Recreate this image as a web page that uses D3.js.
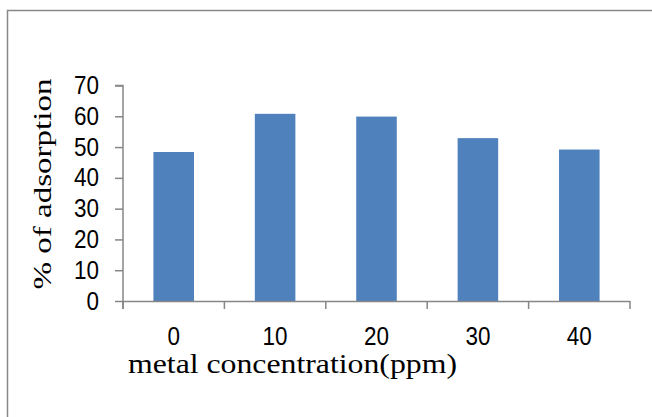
<!DOCTYPE html>
<html>
<head>
<meta charset="utf-8">
<script src="https://cdn.jsdelivr.net/npm/d3@7"></script>
<style>
  body { margin: 0; background: #fff; }
  svg { display: block; }
</style>
</head>
<body>
<div id="plot"></div>
<script>
// data
var categories = ["0", "10", "20", "30", "40"];
var adsorption = [48.4, 60.8, 59.9, 52.9, 49.2];
var yTicks = [0, 10, 20, 30, 40, 50, 60, 70];

var w = 652;
var h = 417;
var plotLeft = 123, plotRight = 630, plotTop = 85.5, plotBottom = 301;
var digitW = 12.5;  // tick digits are a bit condensed

var svg = d3.select("#plot")
  .append("svg")
  .attr("width", w)
  .attr("height", h);

// outer frame (runs off the picture right and bottom)
svg.append("rect")
  .attr("x", 7.5)
  .attr("y", 10.5)
  .attr("width", 800)
  .attr("height", 600)
  .attr("fill", "none")
  .attr("stroke", "#888")
  .attr("stroke-width", 1.5);

var xScale = d3.scaleBand()
  .domain(categories)
  .range([plotLeft, plotRight])
  .paddingInner(0.6)
  .paddingOuter(0.3);

var yScale = d3.scaleLinear()
  .domain([0, 70])
  .range([plotBottom, plotTop]);

// bars
svg.selectAll("rect.bar")
  .data(adsorption)
  .enter()
  .append("rect")
  .attr("class", "bar")
  .attr("x", function(d, i) { return xScale(categories[i]); })
  .attr("y", function(d) { return yScale(d); })
  .attr("width", xScale.bandwidth())
  .attr("height", function(d) { return yScale(0) - yScale(d); })
  .attr("fill", "#4F81BD");

// y axis
var yAxis = d3.axisLeft(yScale)
  .tickValues(yTicks)
  .tickSize(8)
  .tickPadding(16);

var gy = svg.append("g")
  .attr("transform", "translate(" + plotLeft + ",0)")
  .call(yAxis);

// x axis, ticks sit between categories
var step = xScale.step();
var boundaries = d3.range(categories.length + 1).map(function(i) { return plotLeft + i * step; });

var gx = svg.append("g")
  .attr("transform", "translate(0," + plotBottom + ")");

gx.append("line")
  .attr("x1", plotLeft).attr("x2", plotRight)
  .attr("y1", 0.5).attr("y2", 0.5)
  .attr("stroke", "#868686")
  .attr("stroke-width", 1.5);

gx.selectAll("line.tk")
  .data(boundaries)
  .enter()
  .append("line")
  .attr("class", "tk")
  .attr("x1", function(d) { return d; })
  .attr("x2", function(d) { return d; })
  .attr("y1", 0)
  .attr("y2", 8)
  .attr("stroke", "#868686")
  .attr("stroke-width", 1.5);

gx.selectAll("text")
  .data(categories)
  .enter()
  .append("text")
  .attr("x", function(d) { return xScale(d) + xScale.bandwidth() / 2; })
  .attr("y", 44)
  .attr("text-anchor", "middle")
  .style("font-family", "'Liberation Sans', Arial, sans-serif")
  .style("font-size", "25px")
  .attr("textLength", function(d) { return d.length * digitW; })
  .attr("lengthAdjust", "spacingAndGlyphs")
  .attr("fill", "#000")
  .text(function(d) { return d; });

gy.select(".domain").attr("stroke", "#868686").attr("stroke-width", 1.5)
  .attr("d", "M-8," + plotTop + "H0V" + (plotBottom + 8));
gy.selectAll(".tick line").attr("stroke", "#868686").attr("stroke-width", 1.5);
gy.selectAll(".tick text")
  .style("font-family", "'Liberation Sans', Arial, sans-serif")
  .style("font-size", "25px")
  .attr("textLength", function(d) { return String(d).length * digitW; })
  .attr("lengthAdjust", "spacingAndGlyphs")
  .attr("fill", "#000");

// axis titles
svg.append("text")
  .attr("x", 128)
  .attr("y", 373)
  .style("font-family", "'Liberation Serif', 'Times New Roman', serif")
  .style("font-size", "27px")
  .attr("textLength", 329)
  .attr("lengthAdjust", "spacingAndGlyphs")
  .text("metal concentration(ppm)");

svg.append("text")
  .attr("transform", "translate(51,184) rotate(-90)")
  .attr("text-anchor", "middle")
  .style("font-family", "'Liberation Serif', 'Times New Roman', serif")
  .style("font-size", "26px")
  .attr("textLength", 211)
  .attr("lengthAdjust", "spacingAndGlyphs")
  .text("% of adsorption");
</script>
</body>
</html>
